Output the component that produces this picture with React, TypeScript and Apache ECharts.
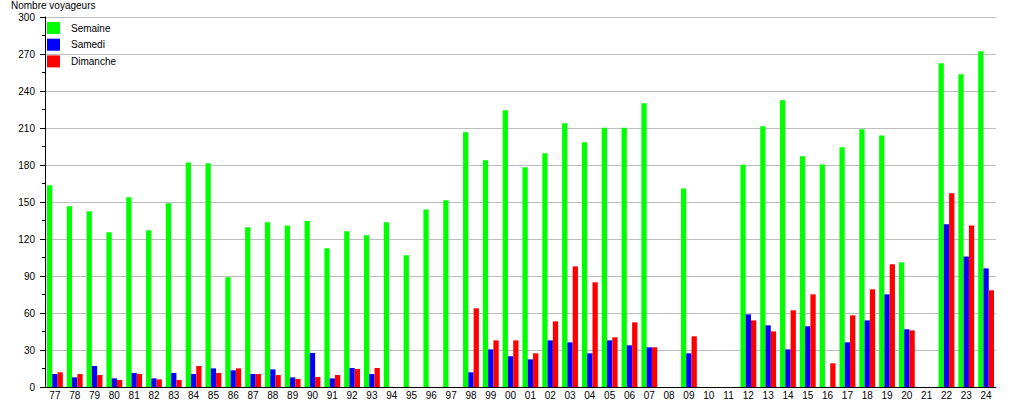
import React, { useEffect, useRef } from "react";
import * as echarts from "echarts";

const categories = [
  "77", "78", "79", "80", "81", "82", "83", "84", "85", "86", "87", "88", "89", "90", "91", "92",
  "93", "94", "95", "96", "97", "98", "99", "00", "01", "02", "03", "04", "05", "06", "07", "08",
  "09", "10", "11", "12", "13", "14", "15", "16", "17", "18", "19", "20", "21", "22", "23", "24",
];

const semaine: (number | null)[] = [
  163.5, 146.5, 142.4, 125.4, 153.8, 127, 149, 182, 181.4, 89, 129.5, 133.5, 131, 134.5, 112.4, 126.2,
  123, 133.5, 106.8, 144, 151.4, 206.6, 183.8, 224.3, 178.1, 189.5, 213.8, 198.4, 210.3, 210.3, 230, null,
  161, null, null, 180.3, 211.4, 232.4, 187, 180.5, 194.3, 208.9, 204, 101.1, null, 262.4, 253.5, 272.3,
];

const samedi: (number | null)[] = [
  10.5, 7.8, 17, 7, 11.4, 7, 11.4, 10.5, 15.1, 13.5, 10.5, 14.3, 7.8, 27.6, 7, 15.4,
  10.5, null, null, null, null, 11.9, 30.5, 24.9, 22.4, 37.8, 36.2, 27.3, 37.8, 33.8, 32.2, null,
  27.3, null, null, 58.9, 50, 30.5, 49.2, null, 36.2, 54, 75.1, 46.8, null, 131.9, 105.9, 96.2,
];

const dimanche: (number | null)[] = [
  11.9, 10.5, 9.7, 5.7, 10.5, 6.2, 5.7, 17, 11.4, 15.1, 10.5, 9.7, 6.5, 8.1, 9.7, 14.6,
  15.4, null, null, null, null, 63.8, 37.8, 37.8, 27.3, 53.2, 97.8, 84.9, 40.3, 52.4, 32.2, null,
  41.1, null, null, 54, 45.1, 62.2, 75.1, 19.2, 58.1, 79.2, 99.5, 45.9, null, 157, 131, 78.4,
];

const seriesNames = ["Semaine", "Samedi", "Dimanche"];
const seriesColors = ["#00ff00", "#0000ff", "#ff0000"];

const FONT = "'Liberation Sans', Arial, sans-serif";

export default function App() {
  const ref = useRef<HTMLDivElement>(null);

  useEffect(() => {
    if (!ref.current) return;
    const chart = echarts.init(ref.current, undefined, { renderer: "svg" });
    const datasets = [semaine, samedi, dimanche];
    chart.setOption({
      animation: false,
      backgroundColor: "#ffffff",
      textStyle: { fontFamily: FONT },
      title: {
        text: "Nombre voyageurs",
        left: 11,
        top: 0,
        padding: 0,
        textStyle: { fontSize: 10, fontWeight: "normal", color: "#000", fontFamily: FONT },
      },
      legend: {
        orient: "vertical",
        left: 47,
        top: 22,
        padding: 0,
        itemWidth: 13,
        itemHeight: 12,
        itemGap: 4.7,
        icon: "rect",
        textStyle: { fontSize: 10, color: "#000", fontFamily: FONT, padding: [0, 0, 0, 6] },
        data: seriesNames,
      },
      grid: { left: 45, right: 19, top: 17, bottom: 13, containLabel: false },
      xAxis: {
        type: "category",
        data: categories,
        boundaryGap: true,
        axisLine: { show: true, lineStyle: { color: "#000", width: 1 } },
        axisTick: { show: false },
        axisLabel: { color: "#000", fontSize: 10, margin: 3, interval: 0, fontFamily: FONT },
        splitLine: { show: false },
      },
      yAxis: {
        type: "value",
        min: 0,
        max: 300,
        interval: 30,
        axisLine: { show: true, lineStyle: { color: "#000", width: 1 } },
        axisTick: { show: true, length: 5, inside: false, lineStyle: { color: "#000" } },
        minorTick: { show: true, splitNumber: 2, length: 3, lineStyle: { color: "#000" } },
        minorSplitLine: { show: false },
        axisLabel: { color: "#000", fontSize: 10, margin: 10, fontFamily: FONT },
        splitLine: { show: true, lineStyle: { color: "#bdbdbd", width: 1 } },
      },
      series: seriesNames.map((name, i) => ({
        name,
        type: "bar",
        data: datasets[i],
        barGap: "0%",
        barCategoryGap: "20%",
        itemStyle: { color: seriesColors[i] },
        emphasis: { disabled: true },
      })),
    });
    return () => chart.dispose();
  }, []);

  return (
    <div
      ref={ref}
      style={{ position: "fixed", left: 0, top: 0, width: 1015, height: 400, background: "#fff" }}
    />
  );
}
